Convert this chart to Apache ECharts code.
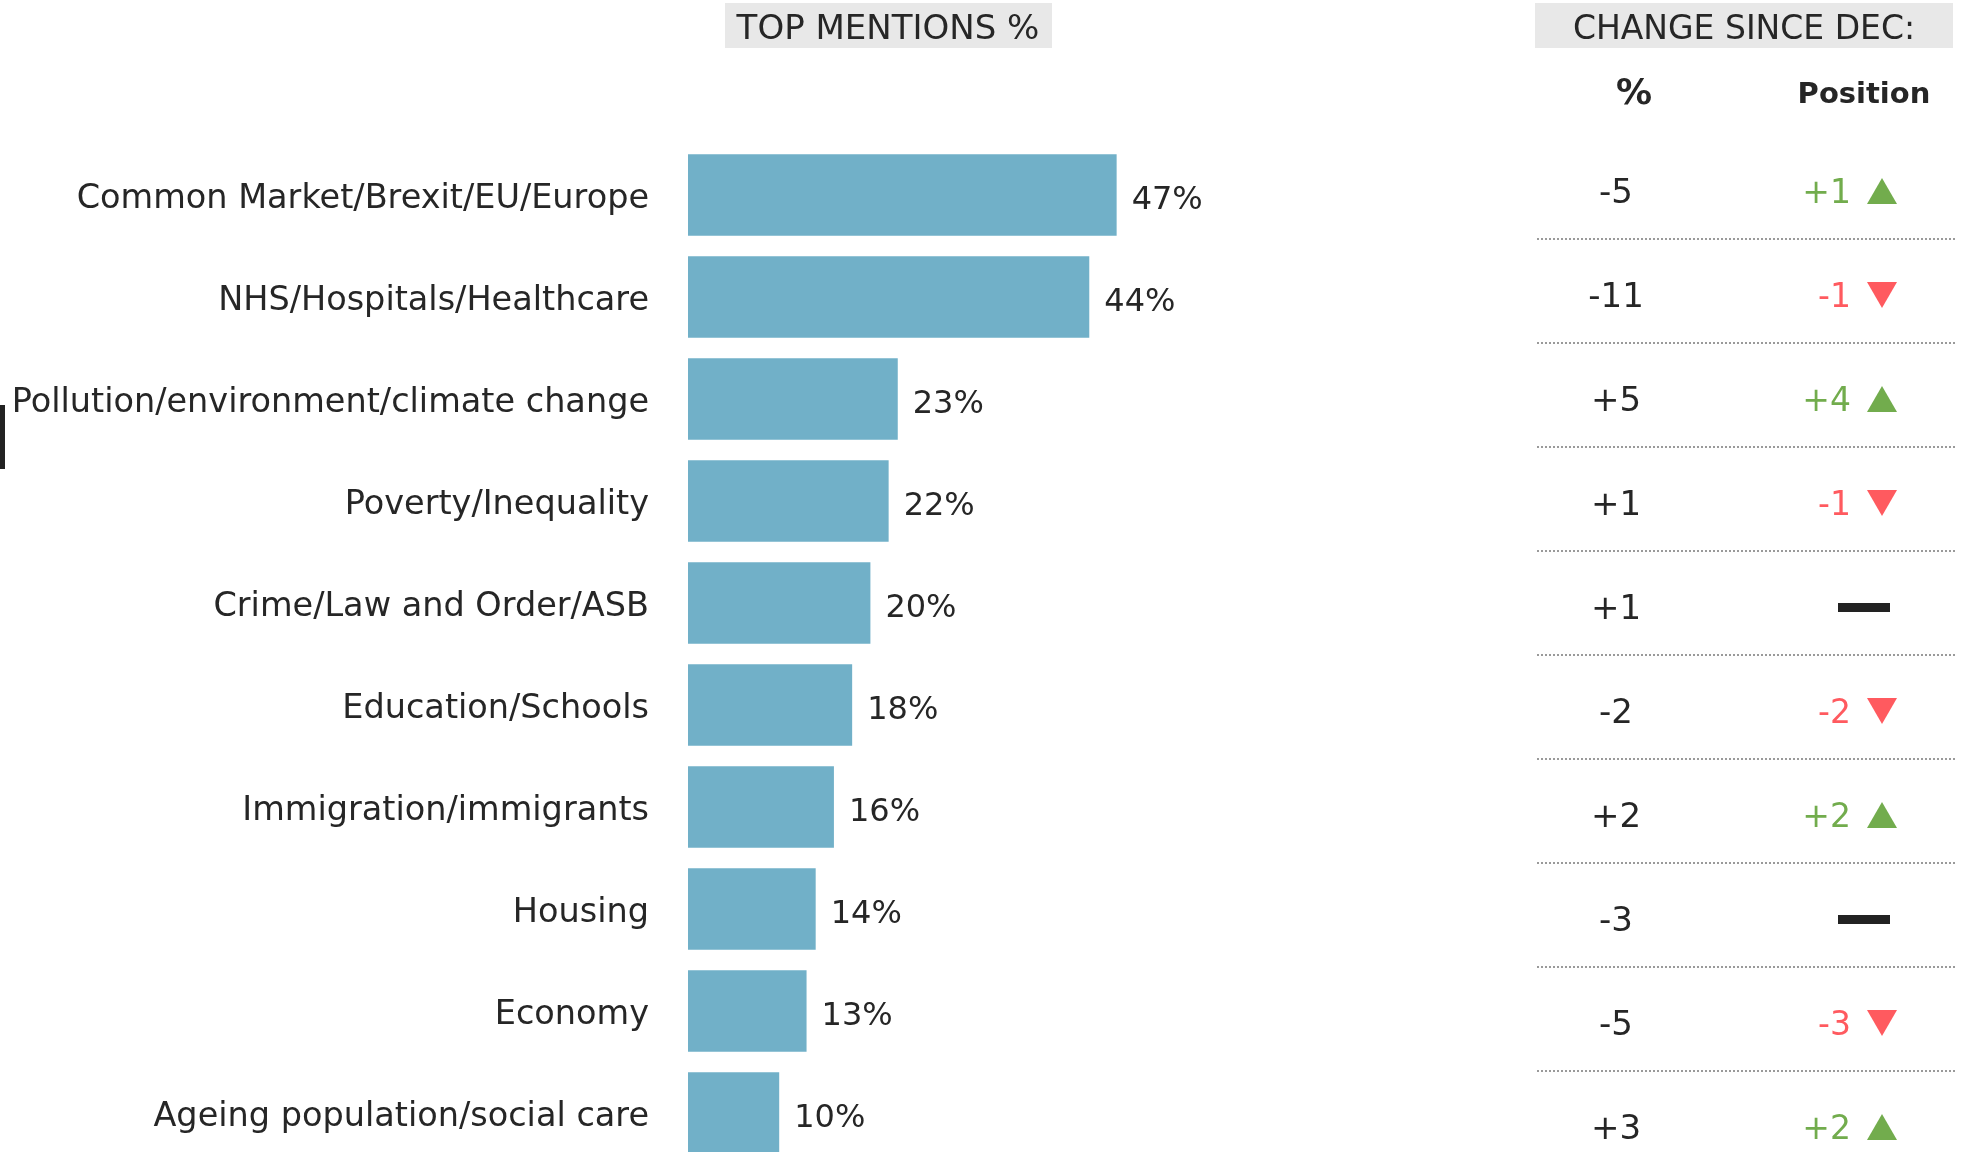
<!DOCTYPE html>
<html>
<head>
<meta charset="utf-8">
<script src="https://cdn.jsdelivr.net/npm/echarts@6/dist/echarts.min.js"></script>
<style>
  html, body { margin: 0; padding: 0; background: #fff; }
  #chart { width: 1968px; height: 1152px; }
</style>
</head>
<body>
<div id="chart"></div>
<script>
// data
const categories = [
  "Common Market/Brexit/EU/Europe",
  "NHS/Hospitals/Healthcare",
  "Pollution/environment/climate change",
  "Poverty/Inequality",
  "Crime/Law and Order/ASB",
  "Education/Schools",
  "Immigration/immigrants",
  "Housing",
  "Economy",
  "Ageing population/social care"
];
const mentions = [47, 44, 23, 22, 20, 18, 16, 14, 13, 10];
const pctChange = [-5, -11, 5, 1, 1, -2, 2, -3, -5, 3];
const posChange = [1, -1, 4, -1, 0, -2, 2, 0, -3, 2];

const FONT = "DejaVu Sans";
const TEXT = "#262626";
const GREEN = "#72ac4d";
const RED = "#ff5a5f";

const signed = (v) => (v > 0 ? "+" + v : String(v));

const tableRows = categories.map((c, i) => [0, i, pctChange[i], posChange[i]]);

const chart = echarts.init(document.getElementById("chart"));

chart.setOption({
  animation: false,
  textStyle: { fontFamily: FONT },
  grid: [
    { left: 688, width: 912, top: 144, height: 1020, outerBoundsMode: "none" },
    { left: 1537, width: 418, top: 142, height: 1040, outerBoundsMode: "none" }
  ],
  xAxis: [
    { gridIndex: 0, type: "value", min: 0, max: 100, show: false },
    { gridIndex: 1, type: "value", min: 0, max: 1, show: false }
  ],
  yAxis: [
    {
      gridIndex: 0,
      type: "category",
      data: categories,
      inverse: true,
      axisLine: { show: false },
      axisTick: { show: false },
      axisLabel: {
        margin: 39,
        formatter: "{c|{value}}",
        rich: {
          c: { fontSize: 33.5, color: TEXT, fontFamily: FONT, padding: [8, 0, 0, 0] }
        }
      }
    },
    {
      gridIndex: 1,
      type: "category",
      data: categories,
      inverse: true,
      show: false
    }
  ],
  graphic: [
    { type: "rect", left: 725, top: 3, shape: { width: 327, height: 45 }, style: { fill: "#e8e8e8" } },
    {
      type: "text", x: 888, y: 30,
      style: { text: "TOP MENTIONS %", font: "34px " + FONT, fill: TEXT, align: "center", verticalAlign: "middle" }
    },
    { type: "rect", left: 1535, top: 3, shape: { width: 418, height: 45 }, style: { fill: "#e8e8e8" } },
    {
      type: "text", x: 1744, y: 30,
      style: { text: "CHANGE SINCE DEC:", font: "33px " + FONT, fill: TEXT, align: "center", verticalAlign: "middle" }
    },
    {
      type: "text", x: 1634, y: 95,
      style: { text: "%", font: "bold 36px " + FONT, fill: TEXT, align: "center", verticalAlign: "middle" }
    },
    {
      type: "text", x: 1864, y: 95,
      style: { text: "Position", font: "bold 29px " + FONT, fill: TEXT, align: "center", verticalAlign: "middle" }
    },
    // stray marker at the left edge
    { type: "rect", left: 0, top: 405, shape: { width: 5, height: 64 }, style: { fill: "#222" } }
  ],
  series: [
    {
      type: "bar",
      xAxisIndex: 0,
      yAxisIndex: 0,
      data: mentions,
      barCategoryGap: "20%",
      itemStyle: { color: "#71b0c8" },
      label: {
        show: true,
        position: "right",
        distance: 15,
        offset: [0, 6],
        formatter: "{c}%",
        fontSize: 32,
        color: TEXT,
        fontFamily: FONT
      }
    },
    {
      type: "custom",
      xAxisIndex: 1,
      yAxisIndex: 1,
      data: tableRows,
      renderItem: function (params, api) {
        const rect = params.coordSys;
        const cy = api.coord([0, api.value(1)])[1];
        const pct = api.value(2);
        const pos = api.value(3);
        const left = rect.x;
        const children = [];
        // % change column
        children.push({
          type: "text",
          x: left + 79, y: cy,
          style: { text: signed(pct), font: "34px " + FONT, fill: TEXT, align: "center", verticalAlign: "middle" }
        });
        // position column
        const cx = left + 345;
        if (pos === 0) {
          children.push({
            type: "rect",
            shape: { x: left + 301, y: cy - 7, width: 52, height: 9 },
            style: { fill: "#222" }
          });
        } else {
          const col = pos > 0 ? GREEN : RED;
          children.push({
            type: "text",
            x: left + 314, y: cy,
            style: { text: signed(pos), font: "33px " + FONT, fill: col, align: "right", verticalAlign: "middle" }
          });
          const ty = cy - 3;
          const pts = pos > 0
            ? [[cx - 15, ty + 13], [cx + 15, ty + 13], [cx, ty - 13]]
            : [[cx - 15, ty - 13], [cx + 15, ty - 13], [cx, ty + 13]];
          children.push({ type: "polygon", shape: { points: pts }, style: { fill: col } });
        }
        // dotted separator
        children.push({
          type: "line",
          shape: { x1: left, y1: cy + 45, x2: left + rect.width, y2: cy + 45 },
          style: { stroke: "#9a9a9a", lineWidth: 2, lineDash: [2, 2] }
        });
        return { type: "group", children: children };
      }
    }
  ]
});
</script>
</body>
</html>
